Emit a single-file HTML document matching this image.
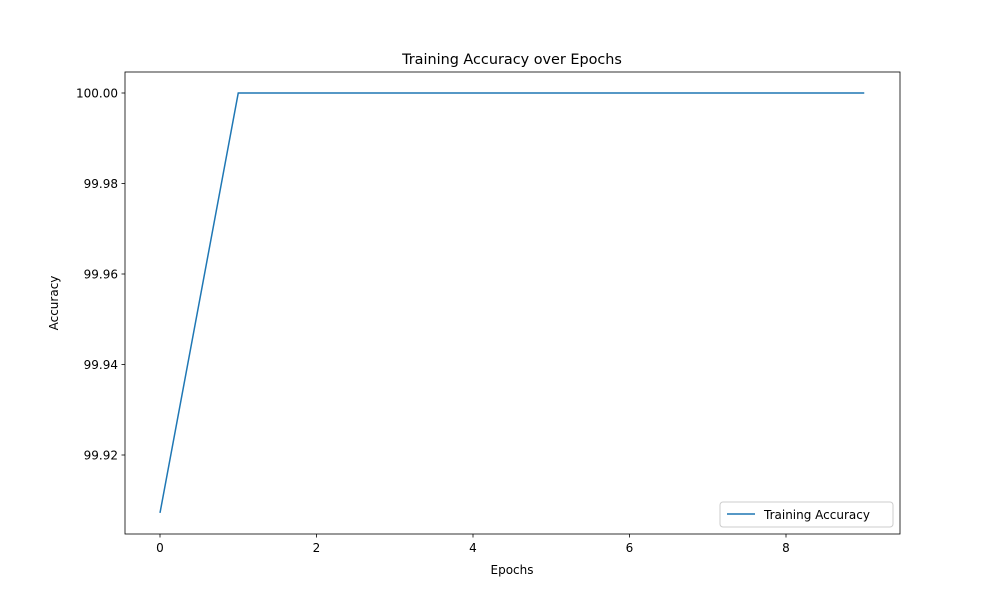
<!DOCTYPE html>
<html><head><meta charset="utf-8">
<style>
body{margin:0;background:#fff;}
svg text{font-family:"DejaVu Sans","Liberation Sans",sans-serif;fill:#000;}
</style></head>
<body>
<svg id="chart" width="1000" height="600" xmlns="http://www.w3.org/2000/svg">
<rect width="1000" height="600" fill="#fff"/>
<text x="512" y="64" font-size="14.4" text-anchor="middle">Training Accuracy over Epochs</text>
<g id="axes"></g>
<rect x="125" y="72" width="775" height="462" fill="none" stroke="#000" stroke-width="0.8"/>
<text x="512" y="574" font-size="12" text-anchor="middle">Epochs</text>
<text transform="translate(58,303) rotate(-90)" font-size="12" text-anchor="middle">Accuracy</text>
<g>
<rect x="720" y="502" width="173" height="25" rx="3" fill="#fff" stroke="#ccc" stroke-width="1"/>
<line x1="727" y1="514" x2="755" y2="514" stroke="#1f77b4" stroke-width="1.5"/>
<text x="764" y="519" font-size="12">Training Accuracy</text>
</g>
</svg>
<script>
const epochs=[0,1,2,3,4,5,6,7,8,9];
const accuracy=[99.9072,100,100,100,100,100,100,100,100,100];
const xTicks=[0,2,4,6,8];
const yTicks=[99.92,99.94,99.96,99.98,100.00];
const xs=v=>160+v*78.25;
const ys=v=>93+(100-v)*4525;
const g=document.getElementById('axes');
const NS='http://www.w3.org/2000/svg';
function mk(t,a){const e=document.createElementNS(NS,t);for(const k in a)e.setAttribute(k,a[k]);g.appendChild(e);return e;}
xTicks.forEach(t=>{
 const l=mk('line',{x1:xs(t),x2:xs(t),y1:534,y2:537.5,stroke:'#000','stroke-width':0.8});
 
 
 const tx=mk('text',{x:xs(t),y:552,'font-size':12,'text-anchor':'middle'});tx.textContent=t;
 
 
});
yTicks.forEach(t=>{
 const l=mk('line',{x1:121.5,x2:125,y1:ys(t),y2:ys(t),stroke:'#000','stroke-width':0.8});
 
 
 const tx=mk('text',{x:118,y:ys(t)+4.5,'font-size':12,'text-anchor':'end'});tx.textContent=t.toFixed(2);
 
 
});
const p=mk('polyline',{points:epochs.map((e,i)=>xs(e)+','+ys(accuracy[i])).join(' '),fill:'none',stroke:'#1f77b4','stroke-width':1.5});


</script>
</body></html>
